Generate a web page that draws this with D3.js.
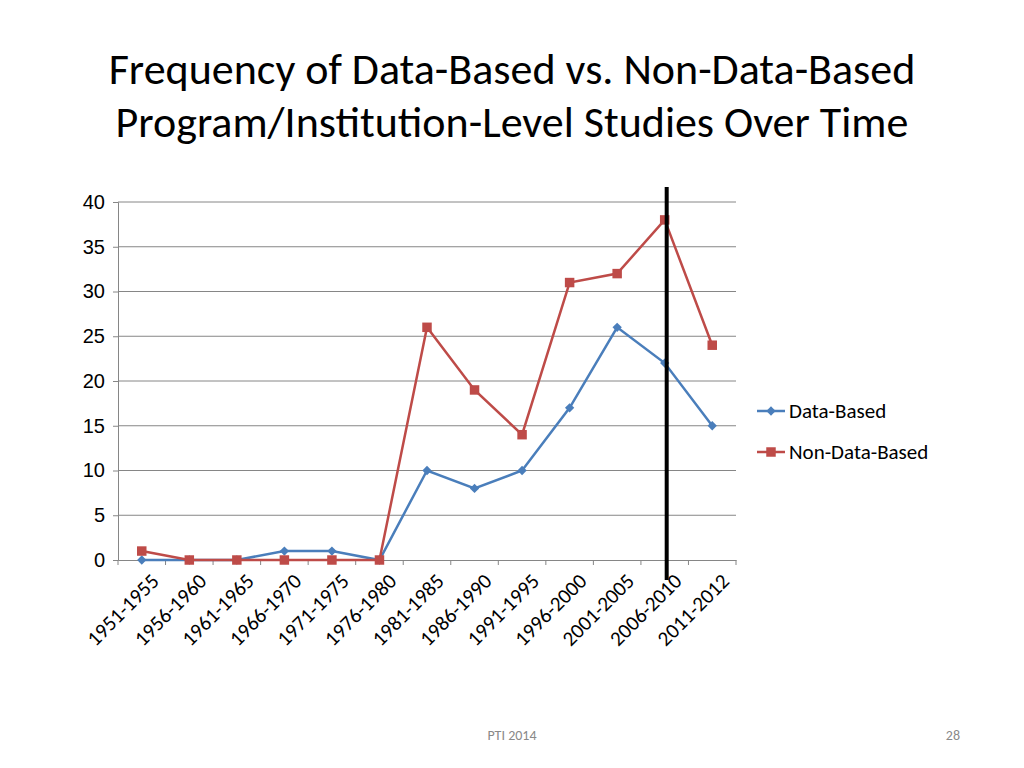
<!DOCTYPE html>
<html><head><meta charset="utf-8">
<script src="https://cdn.jsdelivr.net/npm/d3@7"></script>
<style>body{margin:0;background:#fff}svg{font-family:Carlito,Calibri,"Open Sans",sans-serif}</style>
</head><body><svg id="c" width="1024" height="768"></svg>
<script>
const categories = ["1951-1955","1956-1960","1961-1965","1966-1970","1971-1975","1976-1980","1981-1985","1986-1990","1991-1995","1996-2000","2001-2005","2006-2010","2011-2012"];
const dataBased = [0,0,0,1,1,0,10,8,10,17,26,22,15];
const nonDataBased = [1,0,0,0,0,0,26,19,14,31,32,38,24];
const yTicks = [0,5,10,15,20,25,30,35,40];
const markerCategory = "2006-2010";

const svg = d3.select('#c');
const L = 118, R = 736, T = 202, B = 560;
const x = d3.scaleBand().domain(categories).range([L, R]);
const y = d3.scaleLinear().domain([0, 40]).range([B, T]);
const cx = d => x(d) + x.bandwidth() / 2;

svg.append('text').attr('x', 512).attr('y', 84).attr('text-anchor', 'middle')
  .attr('font-size', 44).text('Frequency of Data-Based vs. Non-Data-Based');
svg.append('text').attr('x', 512).attr('y', 137).attr('text-anchor', 'middle')
  .attr('font-size', 44).text('Program/Institution-Level Studies Over Time');

// gridlines
svg.append('g').selectAll('line').data(yTicks.slice(1)).join('line')
  .attr('x1', L).attr('x2', R).attr('y1', d => y(d)).attr('y2', d => y(d))
  .attr('stroke', '#868686');

const ya = svg.append('g').attr('transform', `translate(${L},0)`)
  .call(d3.axisLeft(y).tickValues(yTicks).tickSize(5).tickPadding(8));
ya.selectAll('text').attr('font-size', 20).attr('fill', '#000').attr('font-family', 'inherit');
ya.selectAll('line,path').attr('stroke', '#868686');

const xa = svg.append('g').attr('transform', `translate(0,${B})`)
  .call(d3.axisBottom(x).tickSize(0).tickFormat(''));
xa.select('path').attr('stroke', '#868686');
svg.append('g').selectAll('line').data(categories.concat([null])).join('line')
  .attr('x1', (d, i) => L + i * x.bandwidth()).attr('x2', (d, i) => L + i * x.bandwidth())
  .attr('y1', B).attr('y2', B + 5).attr('stroke', '#868686');
svg.append('g').selectAll('text').data(categories).join('text')
  .attr('transform', d => `translate(${cx(d) + 8},${B + 12}) rotate(-45)`)
  .attr('text-anchor', 'end').attr('dy', '0.7em').attr('font-size', 21).text(d => d);

const line = d3.line().x((d, i) => cx(categories[i])).y(d => y(d));
function series(vals, color, shape) {
  svg.append('path').datum(vals).attr('d', line).attr('fill', 'none')
    .attr('stroke', color).attr('stroke-width', 2.5);
  svg.append('g').selectAll('path').data(vals).join('path')
    .attr('transform', (d, i) => `translate(${cx(categories[i])},${y(d)})`)
    .attr('d', d3.symbol(shape, shape === d3.symbolSquare ? 90 : 55)())
    .attr('fill', color);
}
series(dataBased, '#4a7ebb', d3.symbolDiamond2);
series(nonDataBased, '#be4b48', d3.symbolSquare);

svg.append('line').attr('x1', cx(markerCategory) + 2).attr('x2', cx(markerCategory) + 2)
  .attr('y1', 187).attr('y2', 580).attr('stroke', '#000').attr('stroke-width', 4);

const leg = [["Data-Based", '#4a7ebb', d3.symbolDiamond2, 411], ["Non-Data-Based", '#be4b48', d3.symbolSquare, 452]];
leg.forEach(([name, color, shape, ly]) => {
  svg.append('line').attr('x1', 757).attr('x2', 785).attr('y1', ly).attr('y2', ly)
    .attr('stroke', color).attr('stroke-width', 2.5);
  svg.append('path').attr('transform', `translate(771,${ly})`)
    .attr('d', d3.symbol(shape, shape === d3.symbolSquare ? 90 : 55)()).attr('fill', color);
  svg.append('text').attr('x', 789).attr('y', ly).attr('dy', '0.35em')
    .attr('font-size', 21).text(name);
});

svg.append('text').attr('x', 512).attr('y', 740).attr('text-anchor', 'middle')
  .attr('font-size', 14).attr('fill', '#898989').text('PTI 2014');
svg.append('text').attr('x', 960).attr('y', 740).attr('text-anchor', 'end')
  .attr('font-size', 14).attr('fill', '#898989').text('28');
</script></body></html>
